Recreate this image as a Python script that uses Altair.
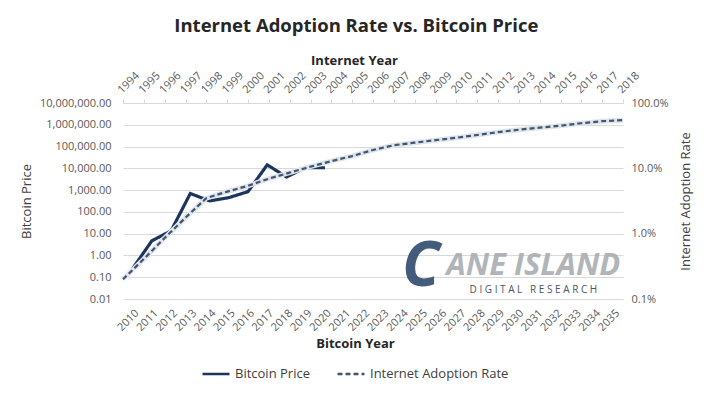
import altair as alt
import pandas as pd

FONT = "Open Sans"

# ---- data ----
btc_years = list(range(2010, 2021))
btc_price = [0.25, 4.7, 13.5, 700, 320, 450, 850, 14500, 4000, 10800, 10600]

net_years = list(range(1994, 2019))
net_rate = [0.0020, 0.0041, 0.0086, 0.0176, 0.035, 0.044, 0.054, 0.0695, 0.086,
            0.106, 0.129, 0.154, 0.191, 0.226, 0.247, 0.270, 0.294, 0.324,
            0.358, 0.390, 0.419, 0.450, 0.490, 0.527, 0.546]

bottom_years = list(range(2010, 2036))
left_ticks = [0.01, 0.1, 1, 10, 100, 1e3, 1e4, 1e5, 1e6, 1e7]
right_ticks = [0.001, 0.01, 0.1, 1]
series = ["Bitcoin Price", "Internet Adoption Rate"]

NB = "\u00a0"
logo_text = ["C", "ANE ISLAND",
             NB.join("DIGITAL") + NB * 3 + NB.join("RESEARCH")]
logo_x = [2025, 2026, 2027]
logo_y = [0.31, 0.34, 0.025]

btc_df = pd.DataFrame({"year": btc_years, "value": btc_price, "series": series[0]})
net_df = pd.DataFrame({"year": net_years, "value": net_rate, "series": series[1]})
logo_df = pd.DataFrame({"year": logo_x, "value": logo_y, "text": logo_text})

LBL = "#595959"

color = alt.Color("series:N",
                  scale=alt.Scale(domain=series, range=["#1c355e", "#44546a"]),
                  legend=alt.Legend(title=None, orient="none", legendX=78, legendY=256,
                                    direction="horizontal",
                                    symbolType="stroke", symbolSize=729,
                                    symbolStrokeWidth=2.5, labelFont=FONT,
                                    labelFontSize=13, labelColor="#404040",
                                    columnPadding=22, labelOffset=4))
dash = alt.StrokeDash("series:N",
                      scale=alt.Scale(domain=series, range=[[1, 0], [5, 3]]),
                      legend=None)

x_bottom_scale = alt.Scale(type="point", domain=bottom_years, padding=0.5)
y_left_scale = alt.Scale(type="log", domain=[0.01, 1e7], nice=False)
x_top_scale = alt.Scale(type="point", domain=net_years, padding=0)
y_right_scale = alt.Scale(type="log", domain=[0.001, 1], nice=False)

btc = alt.Chart(btc_df).mark_line(strokeWidth=3.2, strokeJoin="miter").encode(
    x=alt.X("year:O", scale=x_bottom_scale,
            axis=alt.Axis(orient="bottom", title="Bitcoin Year", labelAngle=-45,
                          labelFont=FONT, labelFontSize=11, labelColor=LBL,
                          ticks=False, domain=False, labelPadding=8,
                          titleFont=FONT, titleFontSize=13, titleFontWeight="bold",
                          titleColor="#262626", titlePadding=5, titleX=232)),
    y=alt.Y("value:Q", scale=y_left_scale,
            axis=alt.Axis(orient="left", title="Bitcoin Price", values=left_ticks,
                          format=",.2f", grid=True, gridColor="#d9d9d9",
                          ticks=False, domain=False, labelFont=FONT, labelFontSize=11,
                          labelColor=LBL, labelPadding=12, titleFont=FONT,
                          titleFontSize=13, titleFontWeight="normal",
                          titleColor="#404040", titlePadding=6)),
    color=color,
    strokeDash=dash,
)

net_shadow = alt.Chart(net_df).mark_line(strokeWidth=5, color="#dfe5ee").encode(
    x=alt.X("year:O", scale=x_top_scale, axis=None),
    y=alt.Y("value:Q", scale=y_right_scale, axis=None),
)

net = alt.Chart(net_df).mark_line(strokeWidth=2.2).encode(
    x=alt.X("year:O", scale=x_top_scale,
            axis=alt.Axis(orient="top", title="Internet Year", labelAngle=-45,
                          labelFont=FONT, labelFontSize=11, labelColor=LBL,
                          ticks=True, tickSize=4, tickColor="#d9d9d9",
                          domain=True, domainColor="#d9d9d9", labelPadding=4,
                          titleFont=FONT, titleFontSize=13, titleFontWeight="bold",
                          titleColor="#262626", titlePadding=2, titleX=231)),
    y=alt.Y("value:Q", scale=y_right_scale,
            axis=alt.Axis(orient="right", title="Internet Adoption Rate",
                          values=right_ticks, format=".1%", grid=False, ticks=False,
                          domain=False, labelFont=FONT, labelFontSize=11,
                          labelColor=LBL, labelPadding=8, titleFont=FONT,
                          titleFontSize=13, titleFontWeight="normal",
                          titleColor="#404040", titleAngle=270, titlePadding=24)),
    color=color,
    strokeDash=dash,
)

def logo_layer(idx, **kw):
    return alt.Chart(logo_df.iloc[[idx]]).mark_text(font=FONT, **kw).encode(
        x=alt.X("year:O", scale=x_bottom_scale, axis=None),
        y=alt.Y("value:Q", scale=y_left_scale, axis=None),
        text="text:N",
    )

logo_c = logo_layer(0, fontSize=62, fontStyle="italic", fontWeight="bold",
                    color="#2f4b6e", align="center", baseline="middle", dx=0, opacity=0.9)
logo_main = logo_layer(1, fontSize=31, fontStyle="italic", fontWeight="bold",
                       color="#a9adb3", align="left", baseline="middle", dx=6, opacity=0.9)
logo_sub = logo_layer(2, fontSize=10, color="#4a5568", align="left",
                      baseline="middle", dx=10)

chart = alt.layer(btc, net_shadow, net, logo_c, logo_main, logo_sub).resolve_scale(
    x="independent", y="independent"
).properties(
    width=500, height=196,
    padding={"left": 12, "top": 8, "right": 5, "bottom": 5},
    title=alt.TitleParams("Internet Adoption Rate vs. Bitcoin Price", font=FONT,
                          fontSize=18.5, fontWeight="bold", color="#262626",
                          anchor="middle", frame="bounds", offset=19),
).configure_view(stroke=None)

chart.save("out.html", embed_options={"renderer": "svg", "actions": False})
